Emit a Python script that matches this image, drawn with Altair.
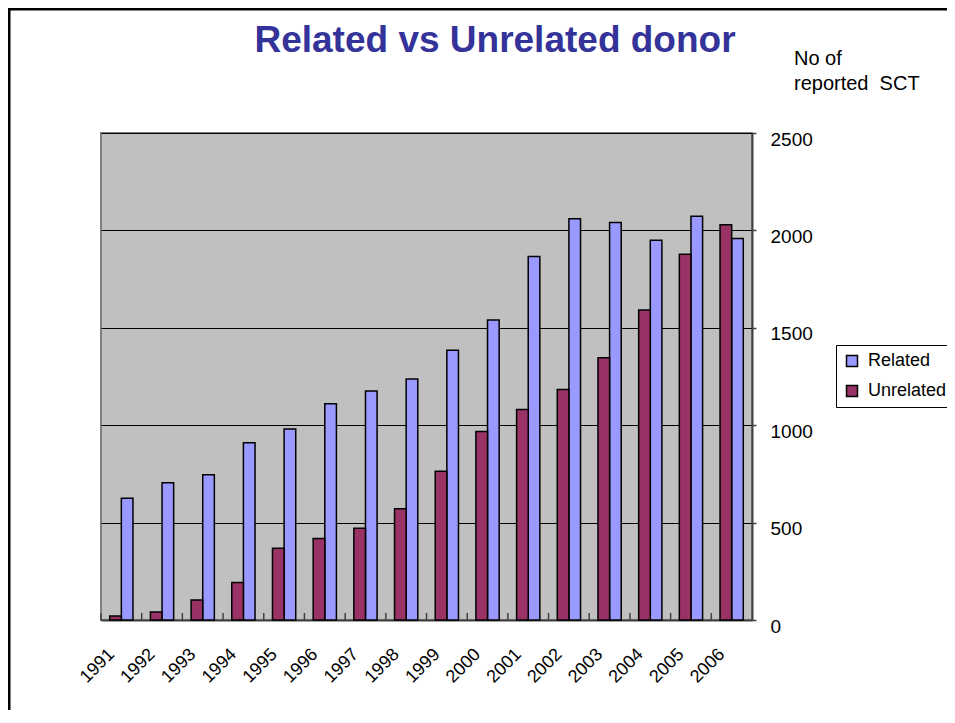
import altair as alt
import pandas as pd

YEARS = ["1991", "1992", "1993", "1994", "1995", "1996", "1997", "1998",
         "1999", "2000", "2001", "2002", "2003", "2004", "2005", "2006"]
RELATED = [625, 705, 745, 910, 980, 1110, 1176, 1237,
           1385, 1540, 1866, 2060, 2041, 1949, 2072, 1959]
UNRELATED = [20, 41, 103, 193, 368, 419, 471, 571,
             764, 968, 1080, 1183, 1346, 1592, 1878, 2029]
SERIES = ["Related", "Unrelated"]
COLORS = ["#9999ff", "#993366"]
Y_TICKS = [0, 500, 1000, 1500, 2000, 2500]
TITLE = "Related vs Unrelated donor"
Y_TITLE = ["No of", "reported\u00a0 SCT"]

FONT = "Liberation Sans"

rows = []
for y, r, u in zip(YEARS, RELATED, UNRELATED):
    rows.append({"year": y, "series": "Related", "value": r})
    rows.append({"year": y, "series": "Unrelated", "value": u})
df = pd.DataFrame(rows)
df_years = pd.DataFrame({"year": YEARS})

W, H = 651, 487

x_enc = alt.X("year:N", sort=YEARS, title=None,
              scale=alt.Scale(paddingInner=0, paddingOuter=0),
              axis=alt.Axis(labelAngle=315, labelFontSize=18, labelFont=FONT,
                            labelColor="black", labelPadding=25, labelOffset=-16,
                            ticks=False, domainColor="#404040", domainWidth=2,
                            grid=False))

bars = alt.Chart(df).mark_bar(stroke="black", strokeWidth=1.5).encode(
    x=x_enc,
    xOffset=alt.XOffset("series:N", sort=["Unrelated", "Related"],
                        scale=alt.Scale(paddingInner=0, paddingOuter=0.75)),
    y=alt.Y("value:Q", title=None,
            scale=alt.Scale(domain=[0, 2500], nice=False),
            axis=alt.Axis(orient="right", values=Y_TICKS, format="d",
                          labelFontSize=19,
                          labelFont=FONT, labelColor="black", tickSize=4,
                          tickColor="#404040", tickWidth=1.5, labelPadding=14,
                          labelOffset=6, domainColor="#404040", domainWidth=2,
                          grid=True, gridColor="black", gridWidth=1)),
    color=alt.Color("series:N", scale=alt.Scale(domain=SERIES, range=COLORS),
                    legend=alt.Legend(title=None, orient="none", legendX=735,
                                      legendY=212, fillColor="white",
                                      strokeColor="black", padding=7,
                                      symbolType="square", symbolSize=121,
                                      symbolStrokeColor="black",
                                      symbolStrokeWidth=1.5, labelFontSize=18,
                                      labelFont=FONT, labelColor="black",
                                      rowPadding=12, labelOffset=7)),
)

ticks = alt.Chart(df_years).mark_rule(color="#404040", strokeWidth=1.5).encode(
    x=alt.X("year:N", sort=YEARS, bandPosition=0),
    y=alt.value(H - 7),
    y2=alt.value(H),
)

title = alt.Chart(pd.DataFrame({"t": [TITLE]})).mark_text(
    font=FONT, fontSize=37, fontWeight="bold", color="#333399",
    align="center", baseline="alphabetic").encode(
    text="t:N", x=alt.value(394), y=alt.value(-81))

ytitle1 = alt.Chart(pd.DataFrame({"t": [Y_TITLE[0]]})).mark_text(
    font=FONT, fontSize=20, color="black", align="left",
    baseline="alphabetic").encode(text="t:N", x=alt.value(693), y=alt.value(-68))
ytitle2 = alt.Chart(pd.DataFrame({"t": [Y_TITLE[1]]})).mark_text(
    font=FONT, fontSize=20, color="black", align="left",
    baseline="alphabetic").encode(text="t:N", x=alt.value(693), y=alt.value(-43))

frame_left = alt.Chart(pd.DataFrame({"a": [0]})).mark_rule(
    color="black", strokeWidth=3).encode(
    x=alt.value(-92), y=alt.value(-125), y2=alt.value(H + 95))
frame_top = alt.Chart(pd.DataFrame({"a": [0]})).mark_rule(
    color="black", strokeWidth=3).encode(
    y=alt.value(-124), x=alt.value(-93), x2=alt.value(W + 200))

chart = alt.layer(bars, ticks, title, ytitle1, ytitle2, frame_left, frame_top).properties(
    width=W, height=H,
    autosize=alt.AutoSizeParams(type="none"),
    padding={"left": 93, "top": 125, "right": 195, "bottom": 90},
).configure_view(
    fill="#c0c0c0", stroke="#808080", strokeWidth=2
)

chart.save("out.html", embed_options={"renderer": "svg", "actions": False})
